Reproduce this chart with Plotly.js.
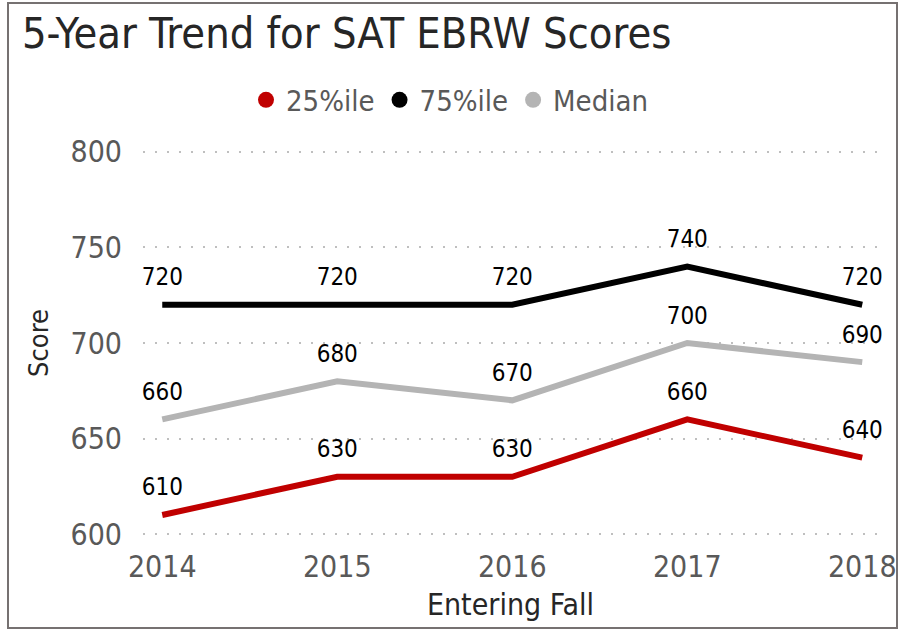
<!DOCTYPE html>
<html>
<head>
<meta charset="utf-8">
<script src="https://cdn.plot.ly/plotly-3.0.1.min.js"></script>
<style>html,body{margin:0;padding:0;background:#fff}#chart{width:900px;height:630px}</style>
</head>
<body>
<div id="chart"></div>
<script>
const years = ["2014", "2015", "2016", "2017", "2018"];
const p25 = [610, 630, 630, 660, 640];
const p75 = [720, 720, 720, 740, 720];
const median = [660, 680, 670, 700, 690];
const seriesNames = ["25%ile", "75%ile", "Median"];
const seriesColors = ["#C00000", "#000000", "#B4B4B4"];
const yTicks = [600, 650, 700, 750, 800];

const FONT = "DejaVu Sans Condensed, DejaVu Sans, sans-serif";
const values = [p25, p75, median];
const traces = [];
values.forEach((v, i) => {
  traces.push({
    x: years, y: v, mode: "lines+markers+text", type: "scatter",
    text: v.map(String), textposition: "top center",
    textfont: {family: FONT, size: 24, color: "#000"},
    line: {color: seriesColors[i], width: 6},
    marker: {size: 20, opacity: 0, color: seriesColors[i]},
    cliponaxis: false, showlegend: false, hoverinfo: "skip"
  });
});
values.forEach((v, i) => {
  traces.push({
    x: [null], y: [null], mode: "markers", type: "scatter", name: seriesNames[i],
    marker: {color: seriesColors[i], size: 20, symbol: "circle"}, showlegend: true
  });
});

const layout = {
  width: 900, height: 630,
  margin: {l: 143, r: 22, t: 150, b: 94},
  paper_bgcolor: "#fff", plot_bgcolor: "#fff",
  font: {family: FONT, color: "#595959"},
  title: {text: "5-Year Trend for SAT EBRW Scores", x: 22/900, xanchor: "left", xref: "container",
          y: 1 - 33/630, yanchor: "middle", yref: "container",
          font: {family: FONT, size: 43, color: "#262626"}},
  legend: {orientation: "h", xref: "container", yref: "container", x: 0.5, xanchor: "center",
           y: 1 - 100/630, yanchor: "middle", font: {family: FONT, size: 29, color: "#595959"},
           itemsizing: "trace", itemwidth: 30, tracegroupgap: 0},
  xaxis: {type: "category", range: [-0.11, 4.09], showgrid: false, zeroline: false, showline: false,
          ticks: "", tickfont: {family: FONT, size: 30, color: "#595959"}, ticklabelstandoff: 10,
          title: {text: "Entering Fall", font: {family: FONT, size: 30, color: "#262626"}, standoff: 10}},
  yaxis: {range: [599, 801], tickvals: yTicks, ticktext: yTicks.map(String), showgrid: true,
          gridcolor: "#BFBFBF", griddash: "2px,10px", gridwidth: 2, zeroline: false, showline: false,
          ticks: "", tickfont: {family: FONT, size: 30, color: "#595959"}, ticklabelstandoff: 20,
          title: {text: "Score", font: {family: FONT, size: 27, color: "#262626"}, standoff: 14}},
  shapes: [{type: "rect", xref: "paper", yref: "paper",
            x0: (8-143)/735, x1: (897-143)/735, y0: (536-628)/386, y1: (536-3)/386,
            line: {color: "#767171", width: 2}, fillcolor: "rgba(0,0,0,0)", layer: "above"}]
};
Plotly.newPlot("chart", traces, layout, {displayModeBar: false, staticPlot: true});
</script>
</body>
</html>
